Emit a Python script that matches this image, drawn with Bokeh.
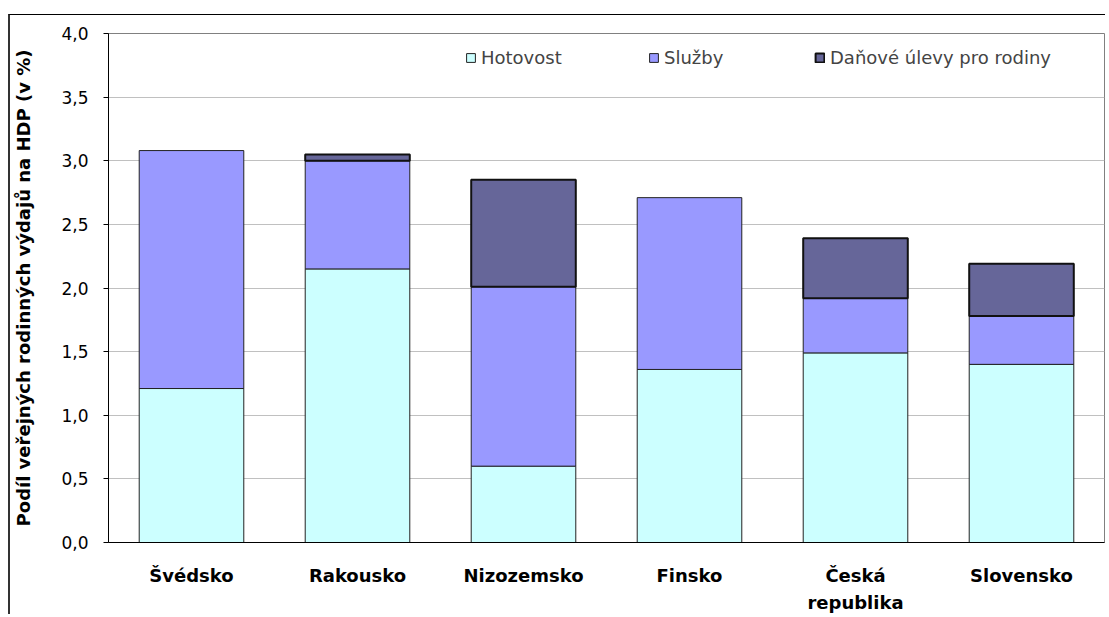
from bokeh.plotting import figure
from bokeh.models import (FactorRange, Range1d, Legend, LegendItem, CustomJSTickFormatter,
                          FixedTicker)
from bokeh.embed import file_html
from bokeh.resources import INLINE

countries = ["Švédsko", "Rakousko", "Nizozemsko", "Finsko", "Česká\nrepublika", "Slovensko"]
hotovost = [1.21, 2.15, 0.60, 1.36, 1.49, 1.40]
sluzby = [1.87, 0.85, 1.41, 1.35, 0.43, 0.38]
danove = [0.00, 0.05, 0.84, 0.00, 0.47, 0.41]
series_names = ["Hotovost", "Služby", "Daňové úlevy pro rodiny"]
y_ticks = [0, 0.5, 1.0, 1.5, 2.0, 2.5, 3.0, 3.5, 4.0]
y_label = "Podíl veřejných rodinných výdajů na HDP (v %)"

FONT = "DejaVu Sans"

p = figure(width=1097, height=600, output_backend="svg", toolbar_location=None,
           x_range=FactorRange(*countries, range_padding=0), y_range=Range1d(0, 4),
           min_border_left=98, min_border_right=3, min_border_top=18, min_border_bottom=72)
p.margin = (14, 0, 0, 8)
p.styles = {"border-left": "2px solid #333333", "border-top": "1px solid #000000"}

s1_top = [h + s for h, s in zip(hotovost, sluzby)]
s2_top = [t + d for t, d in zip(s1_top, danove)]
d_line = [1 if d > 0 else 0 for d in danove]

r1 = p.vbar(x=countries, bottom=0, top=hotovost, width=0.63,
            fill_color="#CCFFFF", line_color="#222222", line_width=1)
r2 = p.vbar(x=countries, bottom=hotovost, top=s1_top, width=0.63,
            fill_color="#9999FF", line_color="#222222", line_width=1)
r3 = p.vbar(x=countries, bottom=s1_top, top=s2_top, width=0.63,
            fill_color="#666699", line_color="#111111", line_width=2, line_alpha=d_line)

# axes
p.yaxis.ticker = FixedTicker(ticks=y_ticks)
p.yaxis.formatter = CustomJSTickFormatter(code="return tick.toFixed(1).replace('.', ',');")
p.yaxis.major_label_text_font = FONT
p.yaxis.major_label_text_font_size = "17px"
p.yaxis.major_label_text_color = "black"
p.yaxis.major_tick_out = 5
p.yaxis.major_tick_in = 0
p.yaxis.minor_tick_out = 0
p.yaxis.minor_tick_in = 0
p.yaxis.major_label_standoff = 15
p.yaxis.axis_line_color = "black"
p.yaxis.major_tick_line_color = "black"
p.yaxis.axis_label = y_label
p.yaxis.axis_label_text_font = FONT
p.yaxis.axis_label_text_font_style = "bold"
p.yaxis.axis_label_text_font_size = "18px"
p.yaxis.axis_label_text_color = "black"
p.yaxis.axis_label_standoff = 24

p.xaxis.major_label_text_font = FONT
p.xaxis.major_label_text_font_style = "bold"
p.xaxis.major_label_text_font_size = "18px"
p.xaxis.major_label_text_color = "black"
p.xaxis.major_label_text_line_height = 1.3
p.xaxis.major_tick_out = 0
p.xaxis.major_tick_in = 0
p.xaxis.major_label_standoff = 22
p.xaxis.axis_line_color = "black"

p.xgrid.grid_line_color = None
p.ygrid.grid_line_color = "#C0C0C0"
p.ygrid.grid_line_width = 1
p.outline_line_color = "#808080"
p.outline_line_width = 1

# legend: three single-item legends placed like the original
renderers = [r1, r2, r3]
xs = [357, 540, 706]
for name, r, lx in zip(series_names, renderers, xs):
    lg = Legend(items=[LegendItem(label=name, renderers=[r], index=2)], location=(lx, 474),
                orientation="horizontal", padding=0, margin=0, spacing=0,
                glyph_width=11, glyph_height=11, label_standoff=5,
                label_text_font=FONT, label_text_font_size="18px",
                border_line_alpha=0, background_fill_alpha=0)
    p.add_layout(lg)

open("out.html", "w").write(file_html(p, INLINE))
